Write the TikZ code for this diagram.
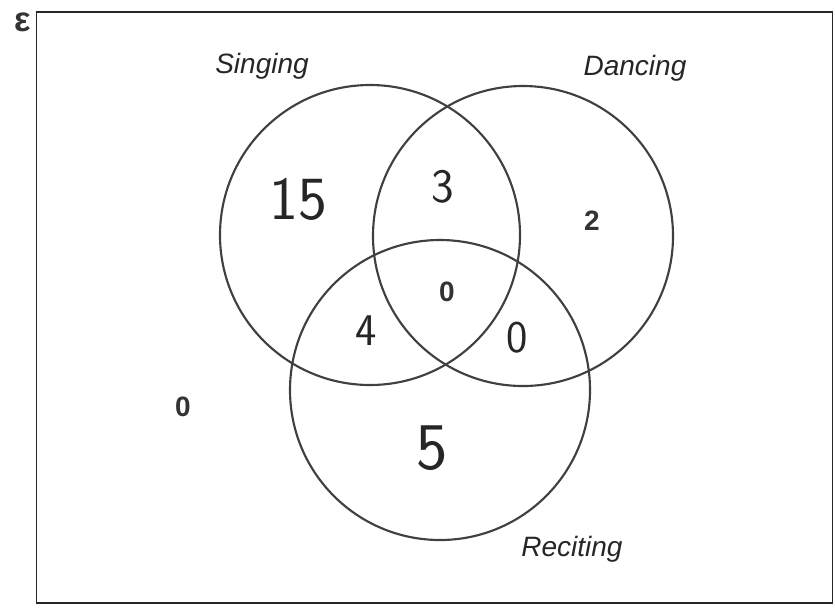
\documentclass[tikz,border=0pt]{standalone}
\usepackage{fontspec}
\newfontfamily\printfont{Liberation Sans}
\usetikzlibrary{positioning}

\begin{document}
\begin{tikzpicture}[
  x=0.75pt, y=-0.75pt,
  venn/.style={circle, draw=black!75, line width=1.6pt, minimum size=225pt, inner sep=0pt},
  setname/.style={font=\printfont\itshape\fontsize{21}{21}\selectfont, text=black!85},
  printed/.style={font=\printfont\bfseries\fontsize{21}{21}\selectfont, text=black!80},
  hand/.style={font=\sffamily\fontsize{#1}{#1}\selectfont, text=black!85},
  hand/.default=40,
]
  \useasboundingbox (0,0) rectangle (835,608);

  % ── universal set ──
  \node[draw=black!85, line width=1.2pt, minimum width=597pt, minimum height=443pt,
        inner sep=0pt] (univ) at (434.5,307.5) {};
  \node[printed, font=\printfont\bfseries\fontsize{26}{26}\selectfont] (eps) at (23,22) {ε};

  % ── sets ──
  \node[venn] (sing) at (370,235) {};
  \node[venn] (danc) at (523,236) {};
  \node[venn] (reci) at (440,390) {};

  \node[setname] (lsing) at (262,66) {Singing};
  \node[setname] (ldanc) at (635,68) {Dancing};
  \node[setname] (lreci) at (572,549) {Reciting};

  % ── counts ──
  \node[hand=46] (nS) at (298,199) {15};
  \node[hand=36] (nSD) at (443,187) {3};
  \node[printed] (nD) at (592,221) {2};
  \node[printed] (nSDR) at (447,292) {0};
  \node[hand=34] (nSR) at (366,331) {4};
  \node[hand=34] (nDR) at (517,338) {0};
  \node[hand=50] (nR) at (432,448) {5};
  \node[printed] (nout) at (183,407) {0};
\end{tikzpicture}
\end{document}
